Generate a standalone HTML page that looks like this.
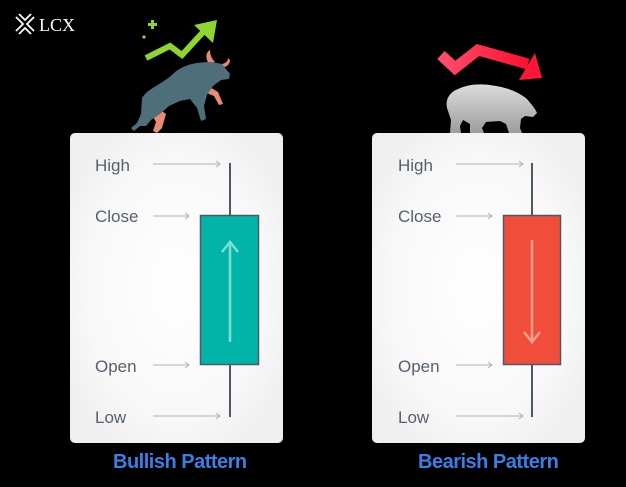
<!DOCTYPE html>
<html><head><meta charset="utf-8"><style>
html,body{margin:0;padding:0;background:#000;}
svg{display:block;}
</style></head><body>
<svg width="626" height="487" viewBox="0 0 626 487" xmlns="http://www.w3.org/2000/svg">
<defs>
<radialGradient id="card" cx="0.5" cy="0.5" r="0.6">
<stop offset="0" stop-color="#ffffff"/><stop offset="0.7" stop-color="#f8f8f8"/><stop offset="1" stop-color="#efefef"/>
</radialGradient>
<linearGradient id="bear" x1="0" y1="0" x2="0" y2="1">
<stop offset="0" stop-color="#dcdcdc"/><stop offset="1" stop-color="#9d9d9d"/>
</linearGradient>
<linearGradient id="red" x1="0" y1="0" x2="1" y2="0">
<stop offset="0" stop-color="#ff4d6b"/><stop offset="1" stop-color="#ff1030"/>
</linearGradient>
</defs>
<rect width="626" height="487" fill="#000"/>

<!-- LCX logo -->
<g stroke="#fff" stroke-width="1.8" fill="none">
<polyline points="16,17 23,24 16,31"/>
<polyline points="34,17 27,24 34,31"/>
<polyline points="19,14 25,20 31,14"/>
<polyline points="19,34 25,28 31,34"/>
</g>
<text x="39" y="31" font-family="Liberation Serif, serif" font-size="18" fill="#fff">LCX</text>

<!-- bull icon -->
<polyline points="146,58 170,46 182,55 205,30" fill="none" stroke="#8ed62e" stroke-width="6" stroke-linejoin="miter"/>
<polygon points="194,25 217,20 213,43" fill="#8ed62e"/>
<rect x="151" y="20" width="3" height="9" fill="#8ed62e"/>
<rect x="148" y="23" width="9" height="3" fill="#8ed62e"/>
<circle cx="144" cy="37" r="1.6" fill="#8ed62e"/>
<!-- pink legs -->
<path d="M208,86 L218,92 L223,104 L219,105 L214,96 L204,92 Z" fill="#e98a72"/>
<path d="M158,108 L166,114 L162,128 L157,133 L153,131 L156,122 L152,115 Z" fill="#e98a72"/>
<!-- horns -->
<path d="M209,64 C205,58 206,52 210,50 C210,55 212,59 215,62 Z" fill="#e98a72"/>
<path d="M222,64 C226,63 228,61 228,58 L230,60 C230,64 227,67 223,67 Z" fill="#e98a72"/>
<!-- bull body -->
<path d="M131,128 L137,123 L141,114 L142,98 C148,88 163,84 174,73 C184,64 198,62 212,62 L222,64 L230,74 L229,79 L221,80 L213,86 L207,95 L204,106 L206,119 L201,121 L197,108 L190,99 L180,101 L169,106 L160,114 L151,120 L146,126 L140,126 L134,131 Z" fill="#4e6e7a"/>

<!-- bear icon -->
<polyline points="441,55 455,68 478,50 528,64" fill="none" stroke="url(#red)" stroke-width="11" stroke-linejoin="miter"/>
<polygon points="535,53 542,78 519,80" fill="#ff1535"/>
<path d="M447,108 C445,99 450,92 458,89 C468,84 482,83 496,86 C509,88 520,93 527,99 C531,104 535,108 537,113 L533,117 L525,116 L521,119 L520,128 L522,133 L509,133 L506,124 L500,121 L486,122 L482,128 L484,133 L470,133 L470,124 L463,120 L460,126 L461,133 L450,133 L451,120 Z" fill="url(#bear)"/>

<!-- cards -->
<rect x="70" y="133" width="213" height="310" rx="5" fill="url(#card)"/>
<rect x="372" y="133" width="213" height="310" rx="5" fill="url(#card)"/>

<g font-family="Liberation Sans, sans-serif" font-size="17" fill="#55616b">
<text x="95" y="171">High</text>
<text x="95" y="222">Close</text>
<text x="95" y="372">Open</text>
<text x="95" y="423">Low</text>
<text x="398" y="171">High</text>
<text x="398" y="222">Close</text>
<text x="398" y="372">Open</text>
<text x="398" y="423">Low</text>
</g>

<g stroke="#a7b5bd" stroke-width="1" fill="none">
<line x1="153" y1="164" x2="220" y2="164"/><polyline points="216,161 220,164 216,167"/>
<line x1="153" y1="216" x2="189" y2="216"/><polyline points="185,213 189,216 185,219"/>
<line x1="153" y1="365" x2="189" y2="365"/><polyline points="185,362 189,365 185,368"/>
<line x1="153" y1="416" x2="220" y2="416"/><polyline points="216,413 220,416 216,419"/>
<line x1="456" y1="164" x2="523" y2="164"/><polyline points="519,161 523,164 519,167"/>
<line x1="456" y1="216" x2="492" y2="216"/><polyline points="488,213 492,216 488,219"/>
<line x1="456" y1="365" x2="492" y2="365"/><polyline points="488,362 492,365 488,368"/>
<line x1="456" y1="416" x2="523" y2="416"/><polyline points="519,413 523,416 519,419"/>
</g>

<!-- bullish candle -->
<line x1="230" y1="163" x2="230" y2="417" stroke="#4b5a66" stroke-width="2"/>
<rect x="200.5" y="215.5" width="58" height="149" fill="#00b4aa" stroke="#4b5a66" stroke-width="1.5"/>
<g stroke="#80dbd4" stroke-width="2.5" fill="none">
<line x1="230" y1="342" x2="230" y2="242"/>
<polyline points="222,252 230,242 238,252"/>
</g>

<!-- bearish candle -->
<line x1="532" y1="163" x2="532" y2="417" stroke="#4b5a66" stroke-width="2"/>
<rect x="503.5" y="215.5" width="57" height="149" fill="#f04e3b" stroke="#4b5a66" stroke-width="1.5"/>
<g stroke="#f9a092" stroke-width="2.5" fill="none">
<line x1="532" y1="240" x2="532" y2="342"/>
<polyline points="524,332 532,342 540,332"/>
</g>

<g font-family="Liberation Sans, sans-serif" font-size="20" font-weight="bold" fill="#3a7fe6" letter-spacing="-0.5">
<text x="113" y="468">Bullish Pattern</text>
<text x="418" y="468">Bearish Pattern</text>
</g>
</svg>
</body></html>
